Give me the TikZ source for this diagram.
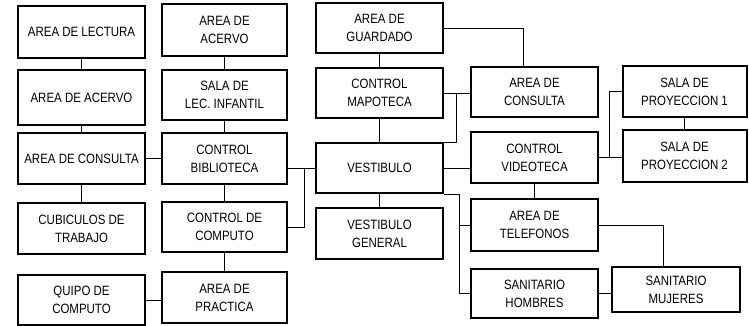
\documentclass[tikz,border=0pt]{standalone}
\usepackage{fontspec}
\setmainfont{Liberation Sans}[FakeStretch=0.85]
\usepackage{tikz}
\usetikzlibrary{
  calc,
  positioning
}

\tikzset{
  room/.style={draw=black, fill=white, line width=2pt, align=center,
               minimum width=127pt, minimum height=51pt, inner sep=1pt,
               font=\fontsize{13.5}{18}\selectfont},
  link/.style={draw=black, line width=0.8pt}
}

\begin{document}
\begin{tikzpicture}[x=1pt, y=-1pt]
\useasboundingbox (0,0) rectangle (749,326);

% columna 1
\node[room, minimum height=52pt] (lectura) at (81.5,32) {AREA DE LECTURA};
\node[room, minimum height=55pt] (acervoA) at (81.5,97.5) {AREA DE ACERVO};
\node[room] (consultaA) at (81.5,158.5) {AREA DE CONSULTA};
\node[room] (cubiculos) at (81.5,228.5) {CUBICULOS DE\\TRABAJO};
\node[room, minimum height=50pt] (quipo) at (81.5,300) {QUIPO DE\\COMPUTO};

% columna 2
\node[room, minimum width=125pt, minimum height=52pt] (acervoB) at (224.5,30) {AREA DE\\ACERVO};
\node[room, minimum width=125pt, minimum height=50pt] (infantil) at (224.5,95) {SALA DE\\LEC. INFANTIL};
\node[room, minimum width=125pt] (biblio) at (224.5,158.5) {CONTROL\\BIBLIOTECA};
\node[room, minimum width=125pt, minimum height=50pt] (computo) at (224.5,227) {CONTROL DE\\COMPUTO};
\node[room, minimum width=125pt] (practica) at (224.5,297.5) {AREA DE\\PRACTICA};

% columna 3
\node[room, minimum height=50pt] (guardado) at (379.5,28) {AREA DE\\GUARDADO};
\node[room, minimum height=50pt] (mapoteca) at (379.5,93) {CONTROL\\MAPOTECA};
\node[room, minimum height=50pt] (vestibulo) at (379.5,168) {VESTIBULO};
\node[room] (vgeneral) at (379.5,233.5) {VESTIBULO\\GENERAL};

% columna 4
\node[room, minimum height=50pt] (consultaB) at (534.5,92) {AREA DE\\CONSULTA};
\node[room] (videoteca) at (534.5,157.5) {CONTROL\\VIDEOTECA};
\node[room, minimum height=52pt] (telefonos) at (534.5,225) {AREA DE\\TELEFONOS};
\node[room, minimum height=49pt] (hombres) at (534.5,293.5) {SANITARIO\\HOMBRES};

% columna 5
\node[room, minimum width=124pt] (proyA) at (684.5,91.5) {SALA DE\\PROYECCION 1};
\node[room, minimum width=124pt, minimum height=52pt] (proyB) at (684.5,156) {SALA DE\\PROYECCION 2};
\node[room, minimum width=128pt, minimum height=45pt] (mujeres) at (676,289.5) {SANITARIO\\MUJERES};

% enlaces verticales
\draw[link] (lectura) -- (acervoA);
\draw[link] (acervoA) -- (consultaA);
\draw[link] (consultaA) -- (cubiculos);
\draw[link] (acervoB) -- (infantil);
\draw[link] (infantil) -- (biblio);
\draw[link] (biblio) -- (computo);
\draw[link] (computo) -- (practica);
\draw[link] (guardado) -- (mapoteca);
\draw[link] (mapoteca) -- (vestibulo);
\draw[link] (vestibulo) -- (vgeneral);
\draw[link] (videoteca) -- (telefonos);
\draw[link] (proyA) -- (proyB);

% enlaces horizontales
\draw[link] (consultaA) -- (biblio);
\draw[link] (quipo.east) -- (quipo.east -| practica.west);
\draw[link] (biblio.east |- vestibulo.west) -- (vestibulo.west);
\coordinate (jBib) at ([xshift=16pt]biblio.east |- vestibulo.west);
\draw[link] (jBib) |- (computo.east);

\draw[link] (guardado.east) -| ([xshift=-11pt]consultaB.north);
\draw[link] (mapoteca.east) -- (mapoteca.east -| consultaB.west);
\coordinate (jMap) at ([xshift=12pt]mapoteca.east);
\draw[link] (jMap) |- (vestibulo.north east);
\draw[link] (vestibulo.east) -- (vestibulo.east -| videoteca.west);

\coordinate (jVes) at ([xshift=15pt]vestibulo.south east);
\draw[link] (vestibulo.south east) -- (jVes) |- (hombres.west);
\draw[link] (jVes |- telefonos.west) -- (telefonos.west);

\draw[link] (videoteca.east) -- (videoteca.east -| proyB.west);
\coordinate (jVid) at ([xshift=10pt]videoteca.east);
\draw[link] (jVid) |- (proyA.west);

\draw[link] (telefonos.east) -| ([xshift=-13pt]mujeres.north);
\draw[link] (hombres.east) -- (hombres.east -| mujeres.west);
\end{tikzpicture}
\end{document}
